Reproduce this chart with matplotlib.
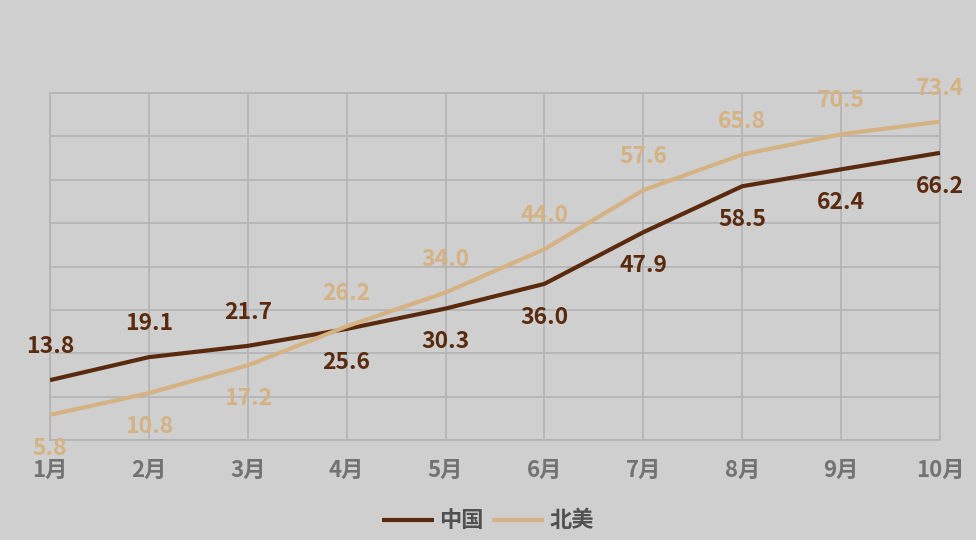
import matplotlib.pyplot as plt
import numpy as np

plt.rcParams["font.family"] = ["Noto Sans CJK SC", "DejaVu Sans"]

months = ["1月", "2月", "3月", "4月", "5月", "6月", "7月", "8月", "9月", "10月"]
china = [13.8, 19.1, 21.7, 25.6, 30.3, 36.0, 47.9, 58.5, 62.4, 66.2]
north_america = [5.8, 10.8, 17.2, 26.2, 34.0, 44.0, 57.6, 65.8, 70.5, 73.4]

BG = "#cfcfcf"
GRID = "#b3b3b3"
C_CHINA = "#5a2a0e"
C_NA = "#d5b283"

fig = plt.figure(figsize=(9.76, 5.4), dpi=100, facecolor=BG)
ax = fig.add_axes([50 / 976, 1 - 440 / 540, 890 / 976, 347 / 540], facecolor=BG)

x = np.arange(len(months))
ax.plot(x, china, color=C_CHINA, lw=3, label="中国", solid_capstyle="butt", zorder=3)
ax.plot(x, north_america, color=C_NA, lw=3, label="北美", solid_capstyle="butt", zorder=3)

# labels go on the outer side of each pair of points
for i in x:
    c, n = china[i], north_america[i]
    c_off, n_off = (24, -24) if c > n else (-24, 24)
    ax.annotate(f"{c:.1f}", (i, c), xytext=(0, c_off), textcoords="offset points",
                ha="center", va="center", fontsize=16.5, fontweight="bold", color=C_CHINA)
    ax.annotate(f"{n:.1f}", (i, n), xytext=(0, n_off), textcoords="offset points",
                ha="center", va="center", fontsize=16.5, fontweight="bold", color=C_NA)

ax.set_xlim(0, len(months) - 1)
ax.set_ylim(0, 80)
ax.set_yticks(np.arange(0, 81, 10))
ax.set_yticklabels([])
ax.set_xticks(x)
ax.set_xticklabels(months, fontsize=16, fontweight="bold", color="#727272")
ax.tick_params(length=0, pad=13.5)
ax.grid(True, color=GRID, lw=1.2)
for s in ax.spines.values():
    s.set_color(GRID)
    s.set_linewidth(1.2)

leg = fig.legend(loc="lower center", bbox_to_anchor=(0.5, -0.023), ncol=2, frameon=False,
                 handlelength=2.3, columnspacing=0.4, handletextpad=0.25,
                 prop={"size": 16, "weight": "bold"})
for t in leg.get_texts():
    t.set_color("#505050")

fig.savefig("out.png", dpi=100, facecolor=BG)
